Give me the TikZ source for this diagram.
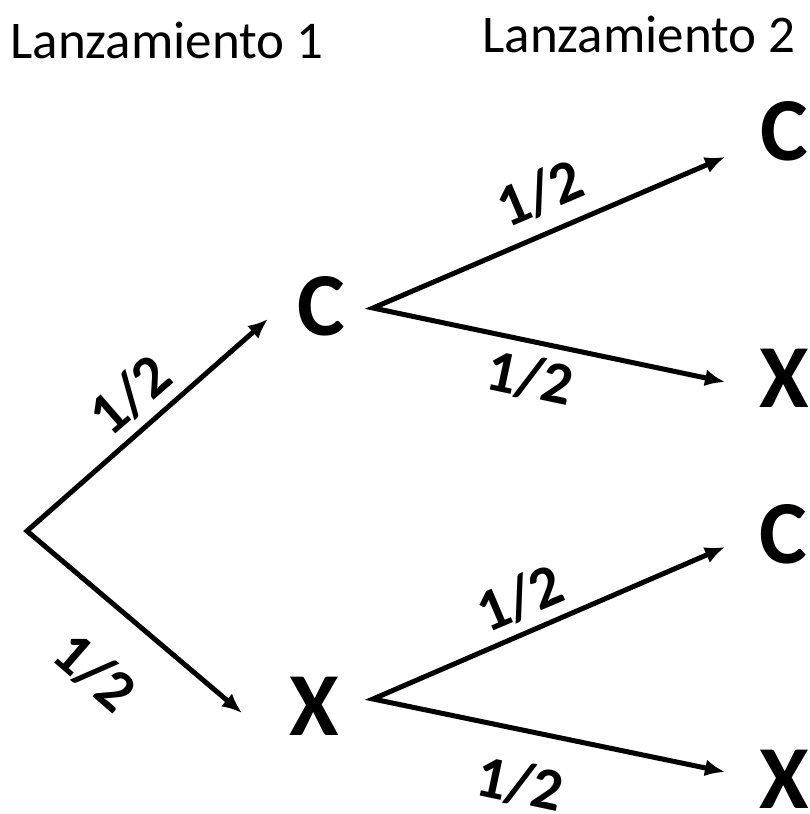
\documentclass[tikz,border=0pt]{standalone}
\usepackage{fontspec}
\setmainfont{Carlito}
\usetikzlibrary{arrows.meta}

\begin{document}
\begin{tikzpicture}[x=0.5pt,y=-0.5pt,>={Latex[length=10pt,width=8.5pt]},
  outcome/.style={font=\bfseries\fontsize{45}{54}\selectfont,inner sep=0pt},
  prob/.style={font=\bfseries\fontsize{30}{36}\selectfont,inner sep=0pt},
  title/.style={font=\fontsize{26.5}{32}\selectfont,anchor=base,inner sep=0pt},
  branch/.style={<->,line width=2.5pt}]
\useasboundingbox (0,0) rectangle (809,814);
\node[title] (t1) at (167,58) {Lanzamiento 1};
\node[title] (t2) at (639,52) {Lanzamiento 2};
\coordinate (root) at (27,531);
\node[outcome] (c1) at (321,306) {C};
\node[outcome] (x1) at (314,706) {X};
\node[outcome] (c2) at (784,131) {C};
\node[outcome] (x2) at (784,378) {X};
\node[outcome] (c3) at (783,534) {C};
\node[outcome] (x3) at (784,779) {X};
% first toss
\draw[branch] ([shift={(-53,13)}]c1.center) -- (root) -- ([shift={(-72,7)}]x1.center);
% second toss
\draw[branch] ([shift={(-59,26)}]c2.center) -- ([shift={(52,2)}]c1.center) -- ([shift={(-59,4)}]x2.center);
\draw[branch] ([shift={(-58,13)}]c3.center) -- ([shift={(59,-7)}]x1.center) -- ([shift={(-59,-7)}]x3.center);
% probabilities
\node[prob,rotate=41] (p1) at (130,395) {1/2};
\node[prob,rotate=-41] (p2) at (95,672) {1/2};
\node[prob,rotate=23] (p3) at (540,193) {1/2};
\node[prob,rotate=-12] (p4) at (530,378) {1/2};
\node[prob,rotate=23] (p5) at (520,598) {1/2};
\node[prob,rotate=-12] (p6) at (520,784) {1/2};
\end{tikzpicture}
\end{document}
